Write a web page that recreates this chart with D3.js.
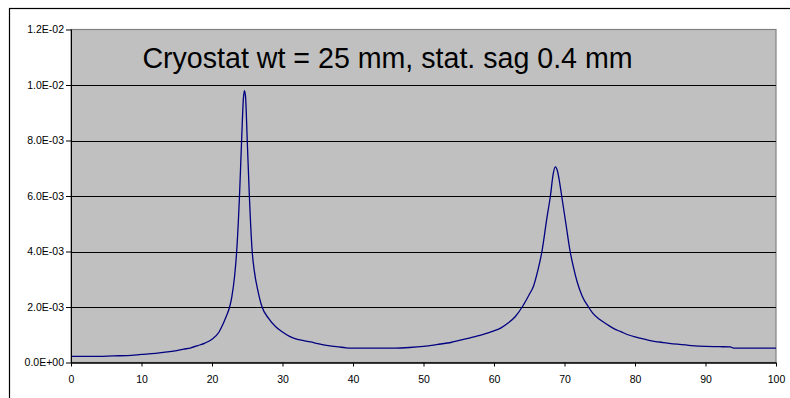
<!DOCTYPE html>
<html>
<head>
<meta charset="utf-8">
<script src="https://cdn.jsdelivr.net/npm/d3@7"></script>
<style>
  body { margin: 0; background: #fff; }
  svg { display: block; font-family: "Liberation Sans", Arial, sans-serif; }
  .tick text { font-size: 10.5px; fill: #000; }
</style>
</head>
<body>
<script>
// position along span (0-100) and response
var xs = [0, 2, 4, 6, 8, 10, 12, 14, 15, 16, 17, 18, 19, 20, 21, 21.5, 22, 22.5, 22.8, 23.2,
  23.5, 23.9, 24.2, 24.45, 24.6, 24.75, 25.0, 25.3, 25.7, 26.0, 26.5, 27.1, 28, 29, 30, 31,
  32, 33, 34, 35, 36, 37, 38, 39, 40, 42, 44, 46, 48, 50, 52, 54, 56, 58, 60, 61, 62, 63,
  64, 65, 65.6, 66.2, 66.8, 67.5, 68, 68.4, 68.7, 69, 69.3, 69.6, 70.2, 70.8, 71.3, 71.8,
  72.5, 73.4, 74, 75, 76, 77, 78, 79, 80, 81, 82, 84, 86, 88, 90, 92, 93.5, 94, 96, 100];
var ys = [2.2e-4, 2.2e-4, 2.2e-4, 2.4e-4, 2.5e-4, 2.9e-4, 3.3e-4, 3.9e-4, 4.3e-4, 4.8e-4,
  5.3e-4, 6.1e-4, 7.0e-4, 8.4e-4, 1.1e-3, 1.35e-3, 1.65e-3, 2.0e-3, 2.35e-3, 3.1e-3,
  4.0e-3, 6.0e-3, 8.0e-3, 9.5e-3, 9.8e-3, 9.6e-3, 8.0e-3, 6.0e-3, 4.0e-3, 3.3e-3,
  2.6e-3, 2.0e-3, 1.6e-3, 1.3e-3, 1.1e-3, 9.4e-4, 8.4e-4, 7.9e-4, 7.4e-4, 6.8e-4,
  6.3e-4, 5.9e-4, 5.6e-4, 5.3e-4, 5.2e-4, 5.2e-4, 5.2e-4, 5.2e-4, 5.4e-4, 5.8e-4,
  6.5e-4, 7.3e-4, 8.5e-4, 9.8e-4, 1.14e-3, 1.25e-3, 1.42e-3, 1.65e-3, 2.0e-3, 2.45e-3,
  2.75e-3, 3.3e-3, 4.0e-3, 5.2e-3, 6.0e-3, 6.8e-3, 7.05e-3, 6.9e-3, 6.5e-3, 6.0e-3,
  5.0e-3, 4.0e-3, 3.4e-3, 2.9e-3, 2.4e-3, 2.0e-3, 1.78e-3, 1.55e-3, 1.38e-3, 1.22e-3,
  1.11e-3, 1.0e-3, 9.2e-4, 8.6e-4, 8.0e-4, 7.2e-4, 6.6e-4, 6.1e-4, 5.8e-4, 5.7e-4,
  5.6e-4, 5.2e-4, 5.2e-4, 5.2e-4];
var xTicks = [0, 10, 20, 30, 40, 50, 60, 70, 80, 90, 100];
var yTicks = [0, 0.002, 0.004, 0.006, 0.008, 0.010, 0.012];
var yTickLabels = ["0.0E+00", "2.0E-03", "4.0E-03", "6.0E-03", "8.0E-03", "1.0E-02", "1.2E-02"];
var title = "Cryostat wt = 25 mm, stat. sag 0.4 mm";

var W = 790, H = 398;
var plot = {left: 71, top: 29.5, right: 776, bottom: 362.5};

var svg = d3.select("body").append("svg").attr("width", W).attr("height", H);

// outer chart frame (runs off right and bottom edges)
svg.append("rect").attr("x", 9.5).attr("y", 8.5).attr("width", 800).attr("height", 400)
  .attr("fill", "#fff").attr("stroke", "#000").attr("stroke-width", 1.2);

var x = d3.scaleLinear().domain([0, 100]).range([plot.left, plot.right]);
var y = d3.scaleLinear().domain([0, 0.012]).range([plot.bottom, plot.top]);

svg.append("rect").attr("x", plot.left).attr("y", plot.top)
  .attr("width", plot.right - plot.left).attr("height", plot.bottom - plot.top)
  .attr("fill", "#c0c0c0").attr("stroke", "#808080").attr("stroke-width", 1.2);

// horizontal grid
svg.append("g").selectAll("line").data(yTicks.slice(1, -1)).join("line")
  .attr("x1", plot.left).attr("x2", plot.right)
  .attr("y1", d => Math.round(y(d)) + 0.5).attr("y2", d => Math.round(y(d)) + 0.5)
  .attr("stroke", "#000").attr("stroke-width", 1);

var line = d3.line().x(d => x(d[0])).y(d => y(d[1])).curve(d3.curveMonotoneX);
svg.append("path").datum(d3.zip(xs, ys))
  .attr("d", line).attr("fill", "none")
  .attr("stroke", "#000080").attr("stroke-width", 1.3);

var yAxis = d3.axisLeft(y).tickValues(yTicks).tickSize(5).tickPadding(2)
  .tickFormat((d, i) => yTickLabels[i]);
var ga = svg.append("g").attr("transform", "translate(" + plot.left + ",0)").call(yAxis);
ga.select(".domain").attr("stroke", "#000").attr("d", "M0.5," + plot.top + "V" + (plot.bottom + 0.5));

var xAxis = d3.axisBottom(x).tickValues(xTicks).tickSize(4).tickPadding(9)
  .tickFormat(d3.format("d"));
var gx = svg.append("g").attr("transform", "translate(0," + plot.bottom + ")").call(xAxis);
gx.select(".domain").attr("stroke", "#000").attr("stroke-width", 1.5)
  .attr("d", "M" + plot.left + ",0.5H" + plot.right);

svg.append("text").attr("x", 387.5).attr("y", 68)
  .attr("text-anchor", "middle").attr("font-size", 28.6).attr("fill", "#000")
  .text(title);
</script>
</body>
</html>
